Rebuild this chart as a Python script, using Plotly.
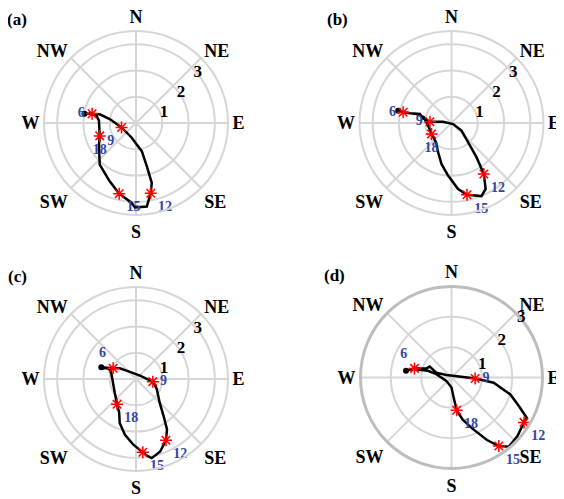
import numpy as np
import plotly.graph_objects as go

panel_labels = ["(a)", "(b)", "(c)", "(d)"]
directions = ["N", "NE", "E", "SE", "S", "SW", "W", "NW"]
direction_deg = [0, 45, 90, 135, 180, 225, 270, 315]
radial_ticks = [1, 2, 3]
hour_labels = ["6", "9", "12", "15", "18"]

# Hodograph curves: eastward (u) and northward (v) wind components (m/s)
a_u = [-1.96, -1.67, -1.38, -1.00, -0.55, -0.17, 0.22, 0.41, 0.60, 0.56, 0.41, -0.04, -0.17, -0.64, -1.00, -1.38, -1.41, -1.38, -1.41, -1.51, -1.80]
a_v = [0.35, 0.35, 0.33, 0.15, -0.17, -0.55, -1.07, -1.64, -2.28, -2.67, -3.18, -3.21, -3.03, -2.69, -2.22, -1.58, -0.87, -0.49, 0.09, 0.28, 0.38]
b_u = [-2.03, -1.84, -1.56, -1.20, -1.10, -0.82, -0.32, 0.06, 0.38, 0.63, 0.95, 1.23, 1.30, 1.14, 0.59, 0.25, -0.13, -0.38, -0.51, -0.59, -0.76, -0.89, -1.05, -1.33, -1.65, -1.90]
b_v = [0.47, 0.41, 0.37, 0.34, 0.18, 0.05, 0.05, -0.04, -0.29, -0.73, -1.30, -1.94, -2.51, -2.78, -2.73, -2.51, -2.00, -1.56, -1.11, -0.73, -0.42, -0.10, 0.22, 0.34, 0.38, 0.40]
c_u = [-1.32, -0.87, -0.62, -0.36, 0.15, 0.64, 0.79, 0.90, 1.05, 1.18, 1.14, 0.92, 0.60, 0.41, 0.26, -0.10, -0.42, -0.62, -0.64, -0.72, -0.81, -0.90, -0.96, -1.10, -1.26]
c_v = [0.45, 0.41, 0.41, 0.32, 0.13, -0.10, -0.38, -0.90, -1.41, -1.92, -2.33, -2.76, -3.01, -2.92, -2.79, -2.50, -2.12, -1.67, -1.28, -0.96, -0.51, 0.00, 0.32, 0.42, 0.41]
d_u = [-1.50, -1.22, -0.83, -0.72, -0.50, -0.17, 0.39, 0.78, 1.39, 1.94, 2.22, 2.48, 2.39, 2.17, 1.89, 1.56, 1.17, 0.67, 0.37, 0.17, 0.06, 0.00, -0.17, -0.50, -0.78, -1.11, -1.30]
d_v = [0.22, 0.30, 0.30, 0.36, 0.16, 0.08, 0.02, -0.03, -0.17, -0.56, -0.94, -1.33, -1.48, -1.94, -2.28, -2.26, -2.06, -1.67, -1.39, -1.08, -0.61, -0.33, -0.11, 0.11, 0.22, 0.26, 0.30]

# Hour markers (06, 09, 12, 15, 18 LT)
a_hour_u = [-1.67, -0.55, 0.56, -0.64, -1.38]
a_hour_v = [0.35, -0.17, -2.67, -2.69, -0.49]
b_hour_u = [-1.84, -0.82, 1.23, 0.59, -0.76]
b_hour_v = [0.41, 0.05, -1.94, -2.73, -0.42]
c_hour_u = [-0.87, 0.64, 1.14, 0.26, -0.72]
c_hour_v = [0.41, -0.10, -2.33, -2.79, -0.96]
d_hour_u = [-1.22, 0.78, 2.39, 1.56, 0.17]
d_hour_v = [0.30, -0.03, -1.48, -2.26, -1.08]

radial_max = [3.5, 3.5, 3.5, 3.0]

curves = [(a_u, a_v), (b_u, b_v), (c_u, c_v), (d_u, d_v)]
hours = [(a_hour_u, a_hour_v), (b_hour_u, b_hour_v), (c_hour_u, c_hour_v), (d_hour_u, d_hour_v)]
text_pos = [
    ["middle left", "bottom left", "bottom right", "bottom right", "bottom center"],
    ["middle left", "middle left", "bottom right", "bottom right", "bottom center"],
    ["top left", "middle right", "bottom right", "bottom right", "bottom right"],
    ["top left", "middle right", "bottom right", "bottom right", "bottom right"],
]

def to_polar(u, v):
    u = np.asarray(u)
    v = np.asarray(v)
    r = np.hypot(u, v)
    th = np.degrees(np.arctan2(u, v)) % 360
    return r, th

FONT = "Liberation Serif"
fig = go.Figure()

for i, ((cu, cv), (hu, hv)) in enumerate(zip(curves, hours)):
    pid = "polar" if i == 0 else f"polar{i+1}"
    r, th = to_polar(cu, cv)
    fig.add_trace(go.Scatterpolar(r=r, theta=th, mode="lines",
                                  line=dict(color="black", width=2.5),
                                  subplot=pid, showlegend=False))
    fig.add_trace(go.Scatterpolar(r=r[:1], theta=th[:1], mode="markers",
                                  marker=dict(color="black", size=6),
                                  subplot=pid, showlegend=False))
    hr, hth = to_polar(hu, hv)
    fig.add_trace(go.Scatterpolar(r=hr, theta=hth, mode="markers+text",
                                  marker=dict(symbol="asterisk-open", size=10, color="red",
                                              line=dict(color="red", width=1.5)),
                                  text=[f"<b>{h}</b>" for h in hour_labels],
                                  textposition=text_pos[i],
                                  textfont=dict(family=FONT, size=14, color="#3346a6"),
                                  subplot=pid, showlegend=False))

# page body has an 8px margin: figure drawn in the remaining area
OFF = 8
W, H = 564 - OFF, 499 - OFF
centers = [(136, 123), (451.5, 123), (136, 379), (451.5, 377.5)]
rad = [92, 92, 92, 91]

for i, ((cx, cy), R) in enumerate(zip(centers, rad)):
    cx -= OFF
    cy -= OFF
    key = "polar" if i == 0 else f"polar{i+1}"
    outer_col = "#d6d6d6" if i < 3 else "#bdbdbd"
    outer_w = 2 if i < 3 else 3
    fig.update_layout(**{key: dict(
        domain=dict(x=[(cx - R) / W, (cx + R) / W],
                    y=[(H - cy - R) / H, (H - cy + R) / H]),
        bgcolor="white",
        radialaxis=dict(range=[0, radial_max[i]], tickvals=radial_ticks,
                        ticktext=[f"<b>{t}</b>" for t in radial_ticks],
                        angle=50, side="clockwise", showline=False, ticks="",
                        tickangle=50,
                        gridcolor="#d6d6d6", gridwidth=2,
                        tickfont=dict(family=FONT, size=17, color="black")),
        angularaxis=dict(rotation=90, direction="clockwise",
                         tickmode="array", tickvals=direction_deg,
                         ticktext=[f"<b>{d}</b>" for d in directions],
                         ticks="",
                         showline=True, linecolor=outer_col, linewidth=outer_w,
                         gridcolor="#d6d6d6", gridwidth=2,
                         tickfont=dict(family=FONT, size=18, color="black")),
    )})

label_pos = [(17, 15), (337, 15), (17, 273), (334, 272)]
for lab, (x, y) in zip(panel_labels, label_pos):
    fig.add_annotation(text=f"<b>{lab}</b>", x=(x - OFF) / W,
                       y=min(1.0, 1 - (y - 8 - OFF) / H),
                       xref="paper", yref="paper",
                       showarrow=False, xanchor="center", yanchor="top",
                       font=dict(family=FONT, size=17, color="black"))

fig.update_layout(width=W, height=H, margin=dict(l=0, r=0, t=0, b=0),
                  paper_bgcolor="white", plot_bgcolor="white",
                  font=dict(family=FONT, color="black"))
fig.write_html("out.html")
